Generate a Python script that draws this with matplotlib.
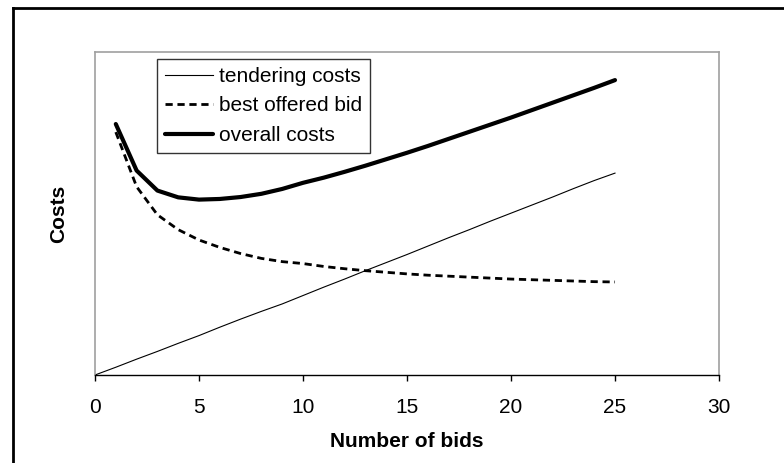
import matplotlib
matplotlib.use("Agg")
import matplotlib.pyplot as plt
from matplotlib.lines import Line2D

plt.rcParams["font.family"] = ["Liberation Sans", "DejaVu Sans"]

# data
tender_x = list(range(0, 26))
tender_costs = [0, 2.4, 4.9, 7.3, 9.8, 12.2, 14.8, 17.3, 19.7, 22.0, 24.6, 27.2,
                29.7, 32.3, 34.8, 37.3, 39.9, 42.5, 45.0, 47.6, 50.1, 52.6,
                55.1, 57.7, 60.2, 62.5]

bids_x = list(range(1, 26))
best_bid = [75.2, 58.3, 49.6, 45.0, 41.8, 39.5, 37.6, 36.1, 35.1, 34.5, 33.6,
            32.9, 32.3, 31.8, 31.3, 30.9, 30.6, 30.3, 30.0, 29.7, 29.5, 29.3,
            29.1, 28.9, 28.8]
overall = [77.7, 63.3, 57.1, 55.0, 54.3, 54.5, 55.1, 56.1, 57.6, 59.5, 61.1,
           62.9, 64.8, 66.8, 68.8, 70.9, 73.1, 75.3, 77.5, 79.7, 82.0, 84.3,
           86.6, 88.9, 91.3]

x_ticks = [0, 5, 10, 15, 20, 25, 30]

fig = plt.figure(figsize=(7.84, 4.63), dpi=100)
fig.patch.set_facecolor("white")
ax = fig.add_axes([95 / 784, 88 / 463, 624 / 784, 323 / 463])

ax.plot(tender_x, tender_costs, color="black", lw=0.8, label="tendering costs")
ax.plot(bids_x, best_bid, color="black", lw=2.0, linestyle=(0, (2.6, 1.7)),
        label="best offered bid")
ax.plot(bids_x, overall, color="black", lw=3.0, solid_capstyle="round",
        label="overall costs")

ax.set_xlim(0, 30)
ax.set_ylim(0, 100)
ax.set_xticks(x_ticks)
ax.set_yticks([])
ax.tick_params(axis="x", direction="out", length=4.5, width=1, pad=12,
               labelsize=15, colors="black")

for side in ["left", "top", "right"]:
    ax.spines[side].set_color("#a0a0a0")
    ax.spines[side].set_linewidth(1.2)
ax.spines["bottom"].set_color("black")
ax.spines["bottom"].set_linewidth(1.0)

ax.set_xlabel("Number of bids", fontsize=15, fontweight="bold", labelpad=11)
ax.set_ylabel("Costs", fontsize=15, fontweight="bold", labelpad=19)

leg = ax.legend(loc="upper left", bbox_to_anchor=(0.099, 0.978), fontsize=15,
                frameon=True, fancybox=False, edgecolor="black",
                handlelength=2.3, handletextpad=0.3, labelspacing=0.5,
                borderpad=0.38, borderaxespad=0)
leg.get_frame().set_linewidth(1.0)

# outer chart frame (runs off the right and bottom edges)
fig.add_artist(Line2D([13 / 784, 13 / 784], [-0.05, 1 - 7.5 / 463],
                      transform=fig.transFigure, color="black", lw=2))
fig.add_artist(Line2D([13 / 784, 1.05], [1 - 7.5 / 463, 1 - 7.5 / 463],
                      transform=fig.transFigure, color="black", lw=2))

fig.savefig("out.png", dpi=100, facecolor="white")
